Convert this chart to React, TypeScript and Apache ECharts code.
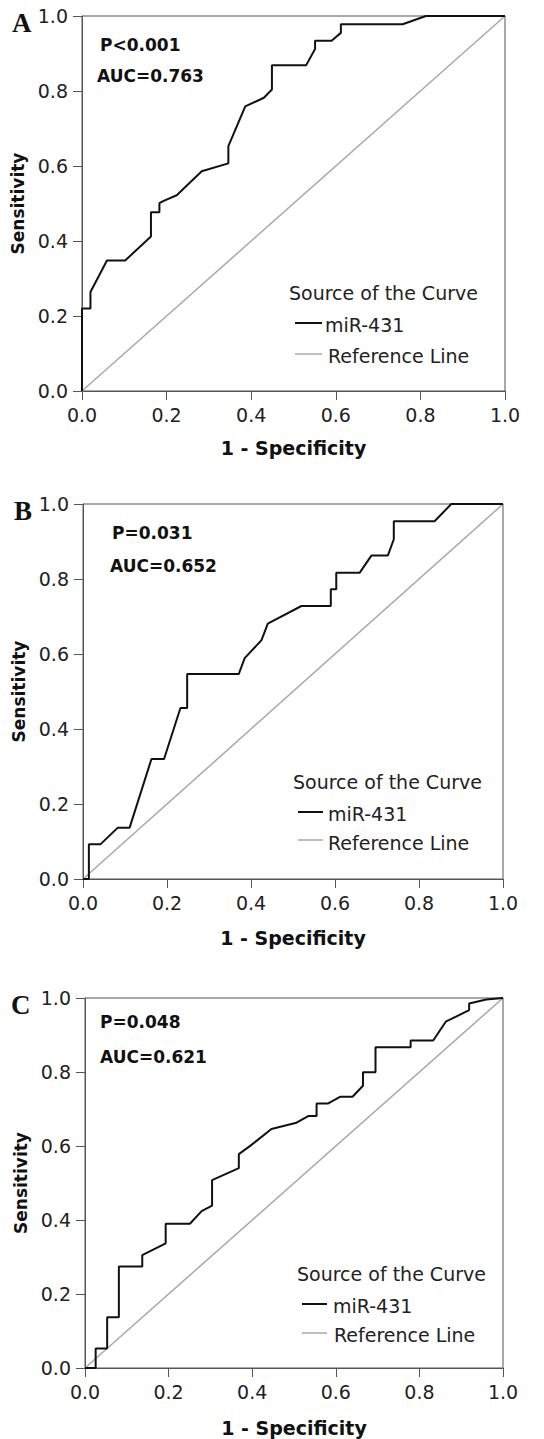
import React, { useEffect, useRef } from "react";
import * as echarts from "echarts";

const panelLetters = ["A", "B", "C"];
const pValues = ["P<0.001", "P=0.031", "P=0.048"];
const aucValues = ["AUC=0.763", "AUC=0.652", "AUC=0.621"];
const seriesName = "miR-431";
const refName = "Reference Line";
const legendTitle = "Source of the Curve";
const xTitle = "1 - Specificity";
const yTitle = "Sensitivity";

const xA = [0, 0, 0.02, 0.02, 0.059, 0.102, 0.163, 0.163, 0.183, 0.183, 0.193, 0.224, 0.283, 0.346, 0.346, 0.386, 0.43, 0.449, 0.449, 0.53, 0.551, 0.551, 0.59, 0.612, 0.612, 0.758, 0.813, 1];
const yA = [0, 0.22, 0.22, 0.264, 0.348, 0.348, 0.412, 0.477, 0.477, 0.501, 0.507, 0.522, 0.586, 0.607, 0.653, 0.759, 0.782, 0.804, 0.869, 0.869, 0.912, 0.934, 0.934, 0.955, 0.978, 0.978, 1, 1];

const xB = [0, 0.014, 0.014, 0.042, 0.083, 0.111, 0.163, 0.193, 0.232, 0.248, 0.248, 0.371, 0.385, 0.425, 0.44, 0.52, 0.59, 0.59, 0.603, 0.603, 0.659, 0.687, 0.726, 0.74, 0.74, 0.837, 0.877, 1];
const yB = [0, 0, 0.093, 0.093, 0.137, 0.137, 0.32, 0.32, 0.456, 0.456, 0.547, 0.547, 0.589, 0.637, 0.681, 0.728, 0.728, 0.773, 0.773, 0.817, 0.817, 0.863, 0.863, 0.906, 0.954, 0.954, 1, 1];

const xC = [0, 0.0255, 0.0255, 0.053, 0.053, 0.081, 0.081, 0.137, 0.137, 0.193, 0.193, 0.251, 0.279, 0.304, 0.304, 0.368, 0.368, 0.396, 0.446, 0.506, 0.534, 0.554, 0.554, 0.582, 0.61, 0.64, 0.665, 0.665, 0.695, 0.695, 0.779, 0.779, 0.833, 0.863, 0.919, 0.919, 0.96, 1];
const yC = [0, 0, 0.053, 0.053, 0.1375, 0.1375, 0.274, 0.274, 0.305, 0.337, 0.39, 0.39, 0.424, 0.439, 0.508, 0.54, 0.578, 0.601, 0.646, 0.663, 0.681, 0.681, 0.715, 0.715, 0.733, 0.733, 0.763, 0.799, 0.799, 0.867, 0.867, 0.885, 0.885, 0.936, 0.967, 0.985, 0.996, 1];

const refX = [0, 1];
const refY = [0, 1];

const curvesX = [xA, xB, xC];
const curvesY = [yA, yB, yC];

export default function App() {
  const ref = useRef<HTMLDivElement>(null);
  useEffect(() => {
    if (!ref.current) return;
    const chart = echarts.init(ref.current, null, { renderer: "svg" });
    const font = "DejaVu Sans, Arial, sans-serif";
    const axisColor = "#555";
    const grids = [
      { left: 82, top: 16, width: 423, height: 375 },
      { left: 83, top: 504, width: 420, height: 375 },
      { left: 85, top: 998, width: 418, height: 370 },
    ];
    const xNameGaps = [47, 49, 50];
    const yNameGaps = [53, 51, 51];
    const textPos = [
      { px: 100, py: 45, ax: 97, ay: 76 },
      { px: 112, py: 533, ax: 110, ay: 566 },
      { px: 100, py: 1022, ax: 100, ay: 1057 },
    ];
    const legendPos = [
      { tx: 289, ty: 293, l1: [295, 322, 323], t1: [325, 325], l2: [295, 322, 354], t2: [328, 356] },
      { tx: 293, ty: 782, l1: [298, 323, 812], t1: [328, 814], l2: [298, 323, 840], t2: [328, 843] },
      { tx: 297, ty: 1274, l1: [302, 327, 1304], t1: [333, 1306], l2: [302, 327, 1333], t2: [334, 1335] },
    ];
    const letterPos = [
      { x: 12, y: 23 },
      { x: 14, y: 511 },
      { x: 11, y: 1005 },
    ];

    const graphic: any[] = [];
    [0, 1, 2].forEach((i) => {
      const lp = letterPos[i];
      graphic.push({
        type: "text", x: lp.x, y: lp.y,
        style: { text: panelLetters[i], fontFamily: "Liberation Serif, Times New Roman, serif", fontWeight: "bold", fontSize: 27, fill: "#111", verticalAlign: "middle", textAlign: "left" },
      });
      const tp = textPos[i];
      graphic.push({
        type: "text", x: tp.px, y: tp.py,
        style: { text: pValues[i], fontFamily: font, fontWeight: "bold", fontSize: 17, fill: "#111", verticalAlign: "middle", textAlign: "left" },
      });
      graphic.push({
        type: "text", x: tp.ax, y: tp.ay,
        style: { text: aucValues[i], fontFamily: font, fontWeight: "bold", fontSize: 17, fill: "#111", verticalAlign: "middle", textAlign: "left" },
      });
      const lg = legendPos[i];
      graphic.push({
        type: "text", x: lg.tx, y: lg.ty,
        style: { text: legendTitle, fontFamily: font, fontSize: 19, fill: "#222", verticalAlign: "middle", textAlign: "left" },
      });
      graphic.push({
        type: "line", shape: { x1: lg.l1[0], y1: lg.l1[2], x2: lg.l1[1], y2: lg.l1[2] },
        style: { stroke: "#111", lineWidth: 2 },
      });
      graphic.push({
        type: "text", x: lg.t1[0], y: lg.t1[1],
        style: { text: seriesName, fontFamily: font, fontSize: 19, fill: "#222", verticalAlign: "middle", textAlign: "left" },
      });
      graphic.push({
        type: "line", shape: { x1: lg.l2[0], y1: lg.l2[2], x2: lg.l2[1], y2: lg.l2[2] },
        style: { stroke: "#a8a8a8", lineWidth: 1.5 },
      });
      graphic.push({
        type: "text", x: lg.t2[0], y: lg.t2[1],
        style: { text: refName, fontFamily: font, fontSize: 19, fill: "#222", verticalAlign: "middle", textAlign: "left" },
      });
    });

    const option: any = {
      animation: false,
      backgroundColor: "#fff",
      grid: grids.map((g) => ({ ...g, show: true, borderColor: axisColor, borderWidth: 1, backgroundColor: "transparent" })),
      xAxis: [0, 1, 2].map((i) => ({
        type: "value", gridIndex: i, min: 0, max: 1, interval: 0.2,
        axisLine: { show: true, lineStyle: { color: axisColor, width: 1 } },
        axisTick: { show: true, inside: false, length: 9, lineStyle: { color: axisColor } },
        axisLabel: { formatter: (v: number) => v.toFixed(1), fontFamily: font, fontSize: 19, color: "#222", margin: 14 },
        splitLine: { show: false },
        name: xTitle, nameLocation: "middle", nameGap: xNameGaps[i],
        nameTextStyle: { fontFamily: font, fontWeight: "bold", fontSize: 19, color: "#111" },
      })),
      yAxis: [0, 1, 2].map((i) => ({
        type: "value", gridIndex: i, min: 0, max: 1, interval: 0.2,
        axisLine: { show: true, lineStyle: { color: axisColor, width: 1 } },
        axisTick: { show: true, inside: false, length: 9, lineStyle: { color: axisColor } },
        axisLabel: { formatter: (v: number) => v.toFixed(1), fontFamily: font, fontSize: 19, color: "#222", margin: 14 },
        splitLine: { show: false },
        name: yTitle, nameLocation: "middle", nameGap: yNameGaps[i],
        nameTextStyle: { fontFamily: font, fontWeight: "bold", fontSize: 17, color: "#111" },
      })),
      series: [
        ...[0, 1, 2].map((i) => ({
          type: "line", name: refName, xAxisIndex: i, yAxisIndex: i,
          data: refX.map((x, k) => [x, refY[k]]),
          showSymbol: false, symbol: "none", clip: false,
          lineStyle: { color: "#a8a8a8", width: 1.5 },
        })),
        ...[0, 1, 2].map((i) => ({
          type: "line", name: seriesName, xAxisIndex: i, yAxisIndex: i,
          data: curvesX[i].map((x, k) => [x, curvesY[i][k]]),
          showSymbol: false, symbol: "none", clip: false,
          lineStyle: { color: "#111", width: 2 },
        })),
      ],
      graphic,
    };
    chart.setOption(option);
    return () => chart.dispose();
  }, []);
  return (
    <div
      ref={ref}
      style={{ position: "absolute", left: 0, top: 0, width: 544, height: 1439, background: "#fff" }}
    />
  );
}
